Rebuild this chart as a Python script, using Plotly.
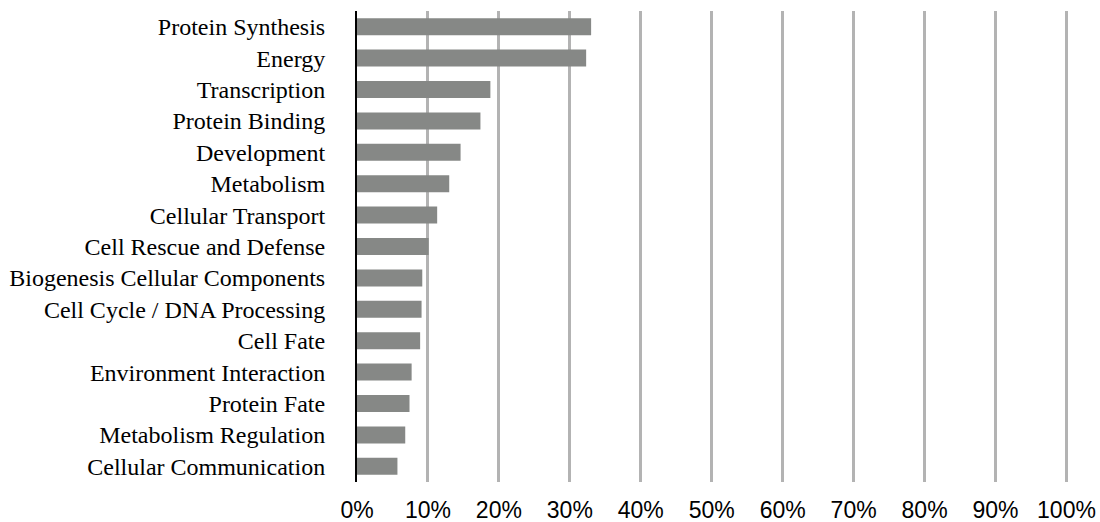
import plotly.graph_objects as go

categories = [
    "Protein Synthesis", "Energy", "Transcription", "Protein Binding",
    "Development", "Metabolism", "Cellular Transport", "Cell Rescue and Defense",
    "Biogenesis Cellular Components", "Cell Cycle / DNA Processing", "Cell Fate",
    "Environment Interaction", "Protein Fate", "Metabolism Regulation",
    "Cellular Communication",
]
values = [33.0, 32.3, 18.8, 17.4, 14.6, 13.0, 11.3, 10.1, 9.2, 9.1, 8.9, 7.7, 7.4, 6.8, 5.7]
tick_vals = [0, 10, 20, 30, 40, 50, 60, 70, 80, 90, 100]
tick_text = [f"{v}%" for v in tick_vals]

fig = go.Figure(go.Bar(
    x=values, y=categories, orientation="h",
    marker=dict(color="#868886", line=dict(width=0)),
))

fig.update_layout(
    width=1100, height=522,
    margin=dict(l=357, r=30, t=11, b=40, autoexpand=False),
    paper_bgcolor="white", plot_bgcolor="white",
    bargap=0.46, showlegend=False,
    xaxis=dict(
        range=[0, 100.5], tickvals=tick_vals, ticktext=tick_text,
        showgrid=True, gridcolor="#b3b3b3", gridwidth=2.5,
        zeroline=False, showline=False, automargin=False,
        ticks="outside", ticklen=7, tickcolor="rgba(0,0,0,0)",
        tickfont=dict(family="Liberation Sans, Arial", size=23, color="black"),
    ),
    yaxis=dict(
        categoryorder="array", categoryarray=categories[::-1],
        showgrid=False, zeroline=False, automargin=False,
        showline=True, linecolor="black", linewidth=2,
        ticks="outside", ticklen=25, tickcolor="rgba(0,0,0,0)",
        tickfont=dict(family="Liberation Serif, Times New Roman", size=24, color="black"),
    ),
)

fig.write_html("out.html")
